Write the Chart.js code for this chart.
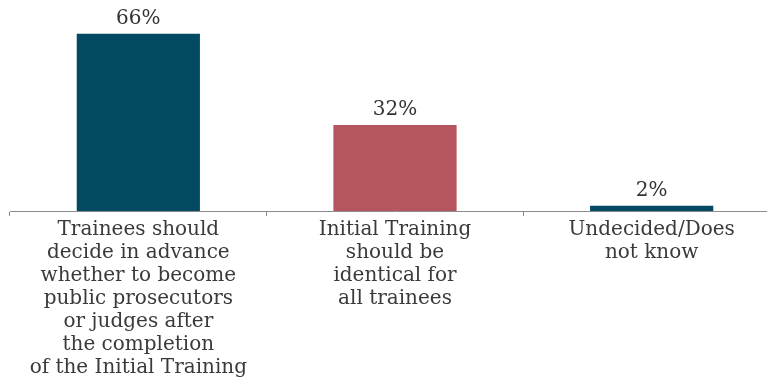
<!DOCTYPE html>
<html>
<head>
<meta charset="utf-8">
<script src="https://cdn.jsdelivr.net/npm/chart.js@4.4.1/dist/chart.umd.min.js"></script>
<style>
    html, body { margin: 0; padding: 0; background: #fff; overflow: hidden; }
    #wrap { width: 780px; height: 381px; }
</style>
</head>
<body>
<div id="wrap"><canvas id="chart"></canvas></div>
<script>
/* Data */
const categories = [
    ["Trainees should", "decide in advance", "whether to become", "public prosecutors", "or judges after", "the completion", "of the Initial Training"],
    ["Initial Training", "should be", "identical for", "all trainees"],
    ["Undecided/Does", "not know"]
];
const values = [66, 32, 2];
const barColors = ["#024a62", "#b5555e", "#024a62"];

const FONT = "'DejaVu Serif', serif";

/* value labels above the bars */
const valueLabels = {
    id: "valueLabels",
    afterDatasetsDraw(chart){
        const ctx = chart.ctx;
        const meta = chart.getDatasetMeta(0);
        ctx.save();
        ctx.font = "20px " + FONT;
        ctx.fillStyle = "#333333";
        ctx.textAlign = "center";
        ctx.textBaseline = "bottom";
        meta.data.forEach(function(bar, i){
            ctx.fillText(values[i] + "%", bar.x, bar.y - 5);
        });
        ctx.restore();
    }
};

new Chart(document.getElementById("chart"), {
    type: "bar",
    data: {
        labels: categories,
        datasets: [{
            data: values,
            backgroundColor: barColors,
            borderWidth: 0,
            barPercentage: 0.48,
            categoryPercentage: 1.0
        }]
    },
    options: {
        responsive: true,
        maintainAspectRatio: false,
        animation: false,
        layout: { padding: { left: 10, right: 0, top: 0, bottom: 0 } },
        plugins: {
            legend: { display: false },
            tooltip: { enabled: false }
        },
        scales: {
            y: {
                display: false,
                min: 0,
                max: 78.6
            },
            x: {
                border: { display: true, color: "#8c8c8c", width: 1 },
                grid: {
                    display: true,
                    drawOnChartArea: false,
                    drawTicks: true,
                    tickLength: 5,
                    color: "#8c8c8c",
                    offset: true
                },
                ticks: {
                    color: "#3a3a3a",
                    padding: 2,
                    maxRotation: 0,
                    autoSkip: false,
                    font: { family: FONT, size: 20, lineHeight: 1.15 }
                }
            }
        }
    },
    plugins: [valueLabels]
});
</script>
</body>
</html>
